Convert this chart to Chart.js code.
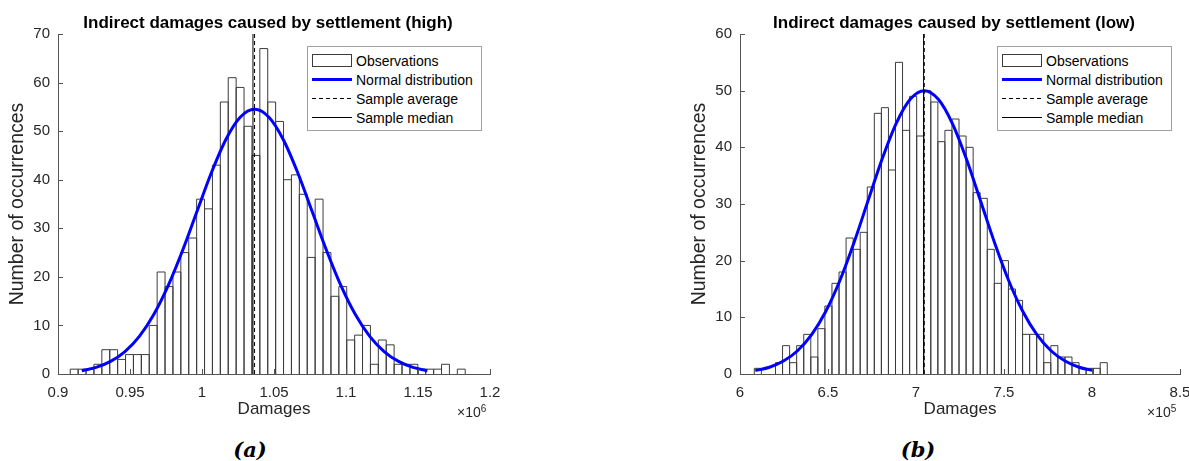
<!DOCTYPE html>
<html>
<head>
<meta charset="utf-8">
<script src="https://cdn.jsdelivr.net/npm/chart.js@4.4.0/dist/chart.umd.min.js"></script>
<style>
  html, body {
    margin: 0; padding: 0; background: #fff;
    width: 1189px; height: 461px; overflow: hidden; position: relative;
    font-family: "Liberation Sans", Arial, sans-serif;
  }
  canvas { position: absolute; top: 0; }
  .title {
    position: absolute; top: 13px; font-size: 17px; line-height: 20px;
    font-weight: bold; color: #000; white-space: nowrap; transform: translateX(-50%);
  }
  .expo { position: absolute; top: 401px; font-size: 14px; line-height: 16px; color: #262626; white-space: nowrap; }
  .expo span { font-size: 10px; vertical-align: 5px; }
  .caption {
    position: absolute; top: 438px; font-family: "DejaVu Serif", serif; font-size: 21px; line-height: 24px;
    font-weight: bold; font-style: italic; color: #000; transform: translateX(-50%);
  }
  .legend {
    position: absolute; top: 46px; width: 173px; height: 79px; padding-top: 4px; box-sizing: content-box;
    border: 1px solid #a0a0a0; background: #fff; font-size: 14px; color: #000;
  }
  .legend .row { height: 19px; display: flex; align-items: center; white-space: nowrap; }
  .legend svg { margin: 0 4px 0 4px; flex: none; }
</style>
</head>
<body>
<canvas id="chartHigh" width="530" height="425" style="left:0px"></canvas>
<canvas id="chartLow" width="530" height="425" style="left:682px"></canvas>

<div class="title" style="left:268px">Indirect damages caused by settlement (high)</div>
<div class="title" style="left:954px">Indirect damages caused by settlement (low)</div>
<div class="expo" style="left:457px">×10<span>6</span></div>
<div class="expo" style="left:1147px">×10<span>5</span></div>
<div class="caption" style="left:250px">(a)</div>
<div class="caption" style="left:918px">(b)</div>

<script>
// --- (a) high: damages in units of 1e6 ---
const highBinCenters = [
  0.91124, 0.91673, 0.92221, 0.92770, 0.93318, 0.93867, 0.94416, 0.94964, 0.95513, 0.96061,
  0.96610, 0.97159, 0.97707, 0.98256, 0.98804, 0.99353, 0.99902, 1.00450, 1.00999, 1.01547,
  1.02096, 1.02645, 1.03193, 1.03742, 1.04290, 1.04839, 1.05388, 1.05936, 1.06485, 1.07033,
  1.07582, 1.08131, 1.08679, 1.09228, 1.09776, 1.10325, 1.10874, 1.11422, 1.11971, 1.12519,
  1.13068, 1.13617, 1.14165, 1.14714, 1.15262, 1.15811, 1.16360, 1.16908, 1.17457, 1.18005
];
const highCounts = [
  1, 1, 1, 2, 5, 5, 3, 4, 4, 4,
  10, 21, 18, 21, 25, 28, 36, 34, 43, 56,
  61, 59, 51, 45, 67, 56, 52, 40, 41, 37,
  24, 36, 25, 16, 18, 7, 8, 10, 2, 7,
  6, 2, 2, 2, 1, 1, 1, 2, 0, 1
];
const highCurveX = [
  0.9165, 0.9265, 0.9365, 0.9465, 0.9565, 0.9665, 0.9765, 0.9865, 0.9965, 1.0065, 1.0165, 1.0265, 1.0365,
  1.0465, 1.0565, 1.0665, 1.0765, 1.0865, 1.0965, 1.1065, 1.1165, 1.1265, 1.1365, 1.1465, 1.1565
];
const highCurveY = [
  0.68, 1.36, 2.59, 4.62, 7.75, 12.24, 18.19, 25.44, 33.46, 41.43, 48.24, 52.86, 54.5,
  52.86, 48.24, 41.43, 33.46, 25.44, 18.19, 12.24, 7.75, 4.62, 2.59, 1.36, 0.68
];
const highMean = 1.0365;
const highMedian = 1.0354;
const highTicksX = [0.9, 0.95, 1, 1.05, 1.1, 1.15, 1.2];
const highTicksY = [0, 10, 20, 30, 40, 50, 60, 70];

// --- (b) low: damages in units of 1e5 ---
const lowBinCenters = [
  6.10136, 6.14147, 6.18158, 6.22169, 6.26180, 6.30191, 6.34202, 6.38213, 6.42224, 6.46235,
  6.50246, 6.54257, 6.58268, 6.62279, 6.66290, 6.70301, 6.74312, 6.78323, 6.82334, 6.86345,
  6.90356, 6.94367, 6.98378, 7.02389, 7.06400, 7.10411, 7.14422, 7.18433, 7.22444, 7.26455,
  7.30466, 7.34477, 7.38488, 7.42499, 7.46510, 7.50521, 7.54532, 7.58543, 7.62554, 7.66565,
  7.70576, 7.74587, 7.78598, 7.82609, 7.86620, 7.90631, 7.94642, 7.98653, 8.02664, 8.06675
];
const lowCounts = [
  1, 0, 0, 2, 5, 2, 5, 7, 3, 8,
  12, 16, 18, 24, 22, 25, 33, 46, 47, 36,
  55, 43, 49, 42, 50, 48, 41, 43, 45, 42,
  40, 32, 31, 22, 16, 20, 15, 13, 7, 7,
  7, 2, 5, 3, 3, 2, 1, 1, 1, 2
];
const lowCurveX = [
  6.087, 6.167, 6.247, 6.327, 6.407, 6.487, 6.567, 6.647, 6.727, 6.807, 6.887, 6.967, 7.047,
  7.127, 7.207, 7.287, 7.367, 7.447, 7.527, 7.607, 7.687, 7.767, 7.847, 7.927, 8.007
];
const lowCurveY = [
  0.59, 1.19, 2.28, 4.10, 6.94, 11.02, 16.46, 23.12, 30.52, 37.88, 44.19, 48.48, 50,
  48.48, 44.19, 37.88, 30.52, 23.12, 16.46, 11.02, 6.94, 4.10, 2.28, 1.19, 0.59
];
const lowMean = 7.047;
const lowMedian = 7.043;
const lowTicksX = [6, 6.5, 7, 7.5, 8, 8.5];
const lowTicksY = [0, 10, 20, 30, 40, 50, 60];

const axisColor = '#555555';
const textColor = '#262626';
const barEdge = '#3c3c3c';

Chart.defaults.font.family = "'Liberation Sans', Arial, sans-serif";
Chart.defaults.font.size = 15;
Chart.defaults.color = textColor;

// ticks pointing into the plot, like the original figure
const inwardTicks = {
  id: 'inwardTicks',
  afterDatasetsDraw(chart) {
    const { ctx, chartArea, scales } = chart;
    ctx.save();
    ctx.strokeStyle = axisColor;
    ctx.lineWidth = 1;
    ctx.beginPath();
    scales.x.ticks.forEach((t) => {
      const px = Math.round(scales.x.getPixelForValue(t.value)) + 0.5;
      ctx.moveTo(px, chartArea.bottom);
      ctx.lineTo(px, chartArea.bottom - 5);
    });
    scales.y.ticks.forEach((t) => {
      const py = Math.round(scales.y.getPixelForValue(t.value)) + 0.5;
      ctx.moveTo(chartArea.left, py);
      ctx.lineTo(chartArea.left + 5, py);
    });
    ctx.stroke();
    ctx.restore();
  }
};

// single-pixel outlines for the histogram bars (shared edges drawn once)
const barOutline = {
  id: 'barOutline',
  afterDatasetDraw(chart, args) {
    if (args.meta.type !== 'bar') return;
    const ctx = chart.ctx;
    ctx.save();
    ctx.strokeStyle = barEdge;
    ctx.lineWidth = 1;
    ctx.beginPath();
    args.meta.data.forEach((bar) => {
      const { x, y, base, width } = bar.getProps(['x', 'y', 'base', 'width'], true);
      if (base - y < 0.5) return;
      const l = x - width / 2;
      const r = x + width / 2;
      ctx.moveTo(l, base);
      ctx.lineTo(l, y);
      ctx.lineTo(r, y);
      ctx.lineTo(r, base);
    });
    ctx.stroke();
    ctx.restore();
  }
};

class HistogramPanel {
  constructor(canvasId, setup) {
    this.setup = setup;
    this.canvas = document.getElementById(canvasId);
    this.chart = this.renderChart();
    this.renderLegend();
  }

  renderChart() {
    const s = this.setup;
    const yMax = s.ticksY[s.ticksY.length - 1];
    return new Chart(this.canvas.getContext('2d'), {
      type: 'bar',
      data: {
        datasets: [
          {
            type: 'bar',
            label: 'Observations',
            data: s.centers.map((c, i) => ({ x: c, y: s.counts[i] })),
            backgroundColor: '#ffffff',
            borderWidth: 0,
            barPercentage: 1,
            categoryPercentage: 1,
            inflateAmount: 0,
            grouped: false,
            order: 3
          },
          {
            type: 'line',
            label: 'Normal distribution',
            data: s.curveX.map((x, i) => ({ x: x, y: s.curveY[i] })),
            borderColor: '#0000ff',
            borderWidth: 3,
            pointRadius: 0,
            cubicInterpolationMode: 'monotone',
            fill: false,
            order: 2
          },
          {
            type: 'line',
            label: 'Sample average',
            data: [{ x: s.mean, y: 0 }, { x: s.mean, y: yMax }],
            borderColor: '#000000',
            borderWidth: 1,
            borderDash: [4, 3],
            pointRadius: 0,
            order: 1
          },
          {
            type: 'line',
            label: 'Sample median',
            data: [{ x: s.median, y: 0 }, { x: s.median, y: yMax }],
            borderColor: '#000000',
            borderWidth: 1,
            pointRadius: 0,
            order: 0
          }
        ]
      },
      options: {
        responsive: false,
        animation: false,
        devicePixelRatio: 1,
        layout: { padding: { top: 34, right: s.padRight, left: 0, bottom: 0 } },
        plugins: { legend: { display: false }, tooltip: { enabled: false } },
        scales: {
          x: {
            type: 'linear',
            min: s.ticksX[0],
            max: s.ticksX[s.ticksX.length - 1],
            offset: false,
            grid: { display: false, drawTicks: false },
            border: { display: true, color: axisColor, width: 1 },
            ticks: { autoSkip: false, maxRotation: 0, padding: 10, callback: (v) => String(v) },
            afterBuildTicks: (scale) => { scale.ticks = s.ticksX.map((v) => ({ value: v })); },
            afterFit: (scale) => { scale.height = 51; },
            title: { display: true, text: 'Damages', font: { size: 17 }, color: textColor, padding: { top: 0, bottom: 5 } }
          },
          y: {
            type: 'linear',
            min: 0,
            max: yMax,
            grid: { display: false, drawTicks: false },
            border: { display: true, color: axisColor, width: 1 },
            ticks: { padding: 8, callback: (v) => String(v) },
            afterBuildTicks: (scale) => { scale.ticks = s.ticksY.map((v) => ({ value: v })); },
            afterFit: (scale) => { scale.width = 58; },
            title: { display: true, text: 'Number of occurrences', font: { size: 19.5 }, color: textColor, padding: { top: 6, bottom: 0 } }
          }
        }
      },
      plugins: [barOutline, inwardTicks]
    });
  }

  renderLegend() {
    const box = document.createElement('div');
    box.className = 'legend';
    box.style.left = this.setup.legendLeft + 'px';
    this.chart.data.datasets.forEach((ds) => {
      const row = document.createElement('div');
      row.className = 'row';
      let swatch;
      if (ds.type === 'bar') {
        swatch = '<svg width="40" height="13"><rect x="0.5" y="0.5" width="39" height="12" fill="#fff" stroke="' + barEdge + '"/></svg>';
      } else {
        const dash = ds.borderDash ? ' stroke-dasharray="' + ds.borderDash.join(' ') + '"' : '';
        swatch = '<svg width="40" height="13"><line x1="0" y1="6.5" x2="40" y2="6.5" stroke="' + ds.borderColor +
          '" stroke-width="' + ds.borderWidth + '"' + dash + '/></svg>';
      }
      row.innerHTML = swatch + '<span>' + ds.label + '</span>';
      box.appendChild(row);
    });
    document.body.appendChild(box);
  }
}

new HistogramPanel('chartHigh', {
  centers: highBinCenters, counts: highCounts,
  curveX: highCurveX, curveY: highCurveY,
  mean: highMean, median: highMedian,
  ticksX: highTicksX, ticksY: highTicksY,
  padRight: 40, legendLeft: 307
});

new HistogramPanel('chartLow', {
  centers: lowBinCenters, counts: lowCounts,
  curveX: lowCurveX, curveY: lowCurveY,
  mean: lowMean, median: lowMedian,
  ticksX: lowTicksX, ticksY: lowTicksY,
  padRight: 32, legendLeft: 997
});
</script>
</body>
</html>
